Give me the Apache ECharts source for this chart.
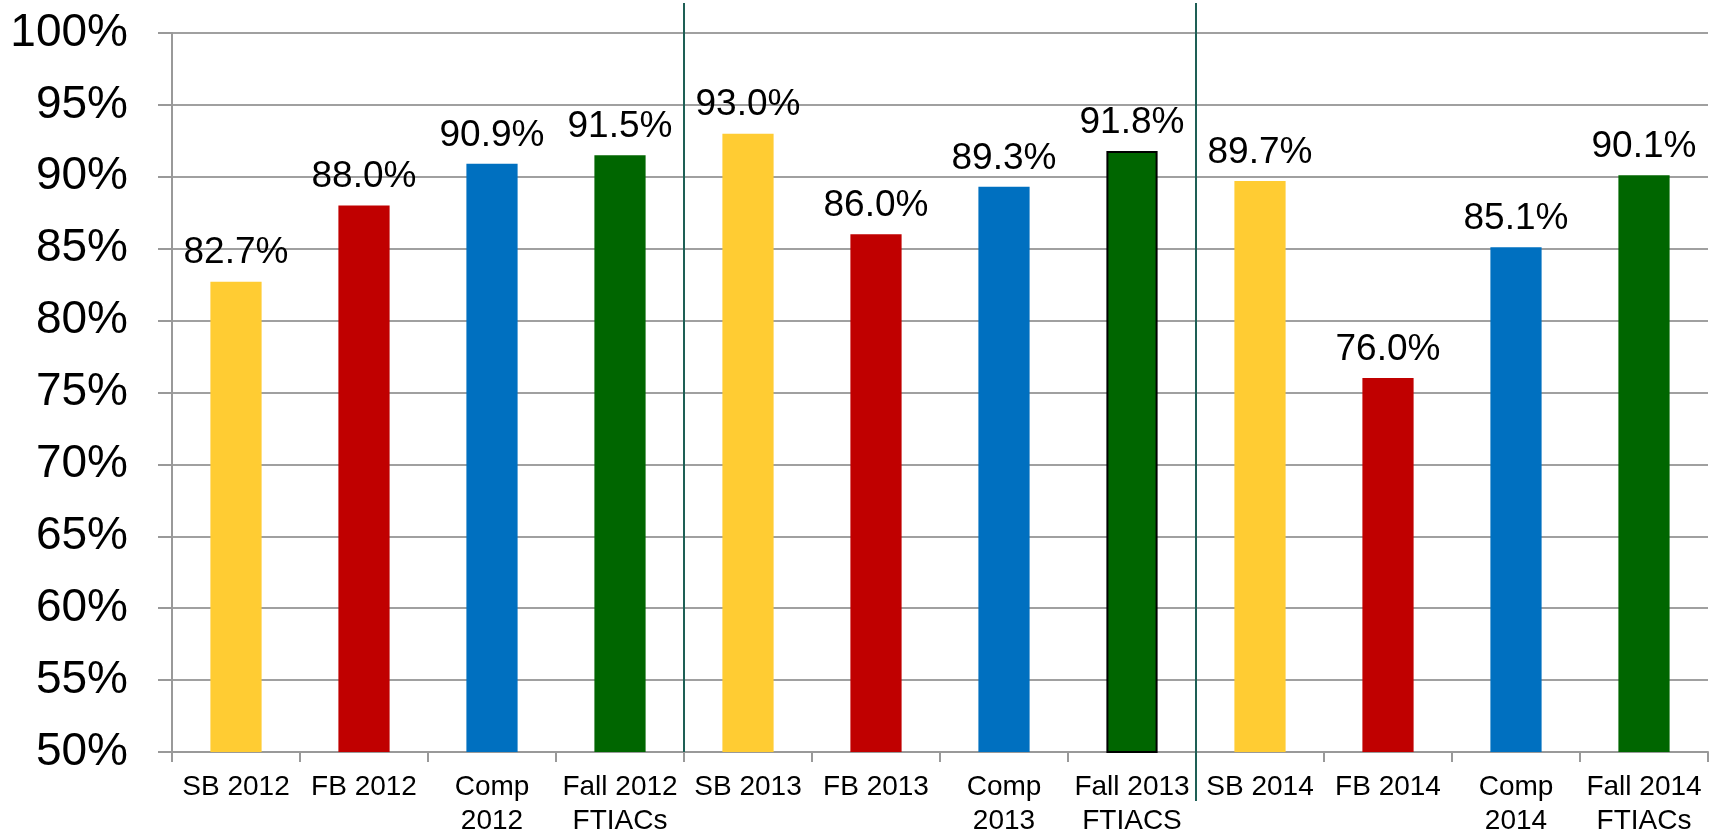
<!DOCTYPE html>
<html lang="en">
<head>
    <meta charset="utf-8">
    <title>ECharts</title>
    <script src="https://cdn.jsdelivr.net/npm/echarts@6/dist/echarts.min.js"></script>
    <style>
        html, body { margin: 0; padding: 0; background: #fff; }
        #main { width: 1715px; height: 834px; }
    </style>
</head>
<body>
<div id="main"></div>
<script type="text/javascript">
    var categories = ['SB 2012', 'FB 2012', 'Comp\n2012', 'Fall 2012\nFTIACs',
        'SB 2013', 'FB 2013', 'Comp\n2013', 'Fall 2013\nFTIACS',
        'SB 2014', 'FB 2014', 'Comp\n2014', 'Fall 2014\nFTIACs'];
    var values = [82.7, 88.0, 90.9, 91.5, 93.0, 86.0, 89.3, 91.8, 89.7, 76.0, 85.1, 90.1];
    var barColors = ['#FFCC33', '#C00000', '#0070C0', '#006600'];
    // group dividers sit between these category indexes
    var dividers = [3.5, 7.5];

    var fontName = '"Liberation Sans", Arial, sans-serif';
    var myChart = echarts.init(document.getElementById('main'));

    var barData = [];
    for (var i = 0; i < values.length; i++) {
        var item = {
            value: values[i],
            itemStyle: { color: barColors[i % 4] }
        };
        if (i == 7) {
            item.itemStyle.borderColor = '#000';
            item.itemStyle.borderWidth = 2;
        }
        barData.push(item);
    }

    var option = {
        animation: false,
        grid: {
            left: 172,
            right: 7,
            top: 33,
            bottom: 82,
            containLabel: false,
            outerBoundsMode: 'none'
        },
        xAxis: {
            type: 'category',
            data: categories,
            axisLine: { lineStyle: { color: '#999', width: 2 } },
            axisTick: { show: true, interval: 0, length: 10, lineStyle: { color: '#999', width: 2 } },
            axisLabel: {
                interval: 0,
                color: '#000',
                fontFamily: fontName,
                fontSize: 28,
                lineHeight: 34,
                margin: 18
            }
        },
        yAxis: {
            type: 'value',
            min: 50,
            max: 100,
            interval: 5,
            axisLine: { show: true, lineStyle: { color: '#999', width: 2 } },
            axisTick: { show: true, length: 14, lineStyle: { color: '#999', width: 2 } },
            splitLine: { lineStyle: { color: '#A0A0A0', width: 2 } },
            axisLabel: {
                formatter: '{value}%',
                color: '#000',
                fontFamily: fontName,
                fontSize: 46,
                margin: 44,
                padding: [6, 0, 0, 0]
            }
        },
        series: [
            {
                type: 'bar',
                data: barData,
                barCategoryGap: '60%',
                label: {
                    show: true,
                    position: 'top',
                    distance: 10,
                    color: '#000',
                    fontFamily: fontName,
                    fontSize: 37,
                    formatter: function (p) {
                        return p.value.toFixed(1) + '%';
                    }
                }
            }
        ]
    };
    myChart.setOption(option);

    // vertical group separators at the category boundaries
    var lines = [];
    var bottoms = [752, 801];
    for (var d = 0; d < dividers.length; d++) {
        var a = myChart.convertToPixel({ xAxisIndex: 0 }, Math.floor(dividers[d]));
        var b = myChart.convertToPixel({ xAxisIndex: 0 }, Math.ceil(dividers[d]));
        var x = Math.round((a + b) / 2);
        lines.push({
            type: 'line',
            shape: { x1: x, y1: 3, x2: x, y2: bottoms[d] },
            style: { stroke: '#1E5F55', lineWidth: 2 },
            z: 10
        });
    }
    myChart.setOption({ graphic: lines });
</script>
</body>
</html>
